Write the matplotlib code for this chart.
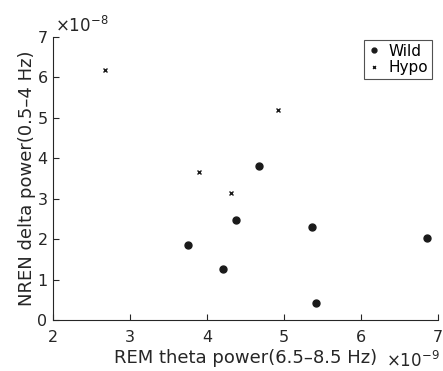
import matplotlib
matplotlib.use("Agg")
import matplotlib.pyplot as plt

plt.rcParams['font.family'] = ['DejaVu Sans']
plt.rcParams['mathtext.fontset'] = 'dejavusans'

wild_x = [4.67, 4.37, 5.36, 6.86, 3.75, 4.21, 5.41]
wild_y = [3.81, 2.48, 2.29, 2.04, 1.85, 1.26, 0.43]
hypo_x = [2.67, 4.92, 3.89, 4.31]
hypo_y = [6.18, 5.20, 3.65, 3.15]

fig = plt.figure(figsize=(4.43, 3.71), dpi=100)
ax = fig.add_axes([0.12, 0.1375, 0.869, 0.7628])

ax.plot(wild_x, wild_y, 'o', color='#1a1a1a', markersize=5, label='Wild', linestyle='none')
ax.plot(hypo_x, hypo_y, 'x', color='#1a1a1a', markersize=3, markeredgewidth=1.0, label='Hypo', linestyle='none')

ax.set_xlim(2, 7)
ax.set_ylim(0, 7)
ax.set_xticks([2, 3, 4, 5, 6, 7])
ax.set_yticks([0, 1, 2, 3, 4, 5, 6, 7])
ax.tick_params(direction='in', length=4, labelsize=11.5, colors='#262626', width=0.8)
ax.tick_params(axis='x', pad=7)
ax.tick_params(axis='y', pad=4)
for s in ['top', 'right']:
    ax.spines[s].set_visible(False)
for s in ['left', 'bottom']:
    ax.spines[s].set_color('#262626')
    ax.spines[s].set_linewidth(0.8)

ax.set_xlabel('REM theta power(6.5\u20138.5 Hz)', fontsize=13, color='#262626', labelpad=3)
ax.set_ylabel('NREN delta power(0.5\u20134 Hz)', fontsize=13, color='#262626', labelpad=1)

ax.text(0.005, 1.005, r'$\times10^{-8}$', transform=ax.transAxes, fontsize=12, color='#262626',
        ha='left', va='bottom')
ax.text(1.005, -0.11, r'$\times10^{-9}$', transform=ax.transAxes, fontsize=12, color='#262626',
        ha='right', va='top')

leg = ax.legend(loc='upper right', bbox_to_anchor=(0.985, 0.99), fontsize=11, frameon=True, fancybox=False,
                handlelength=0.8, handletextpad=0.6, borderpad=0.25, labelspacing=0.1, borderaxespad=0,
                markerscale=0.7)
leg.get_frame().set_edgecolor('#262626')
leg.get_frame().set_linewidth(0.8)

fig.savefig('out.png', dpi=100)
